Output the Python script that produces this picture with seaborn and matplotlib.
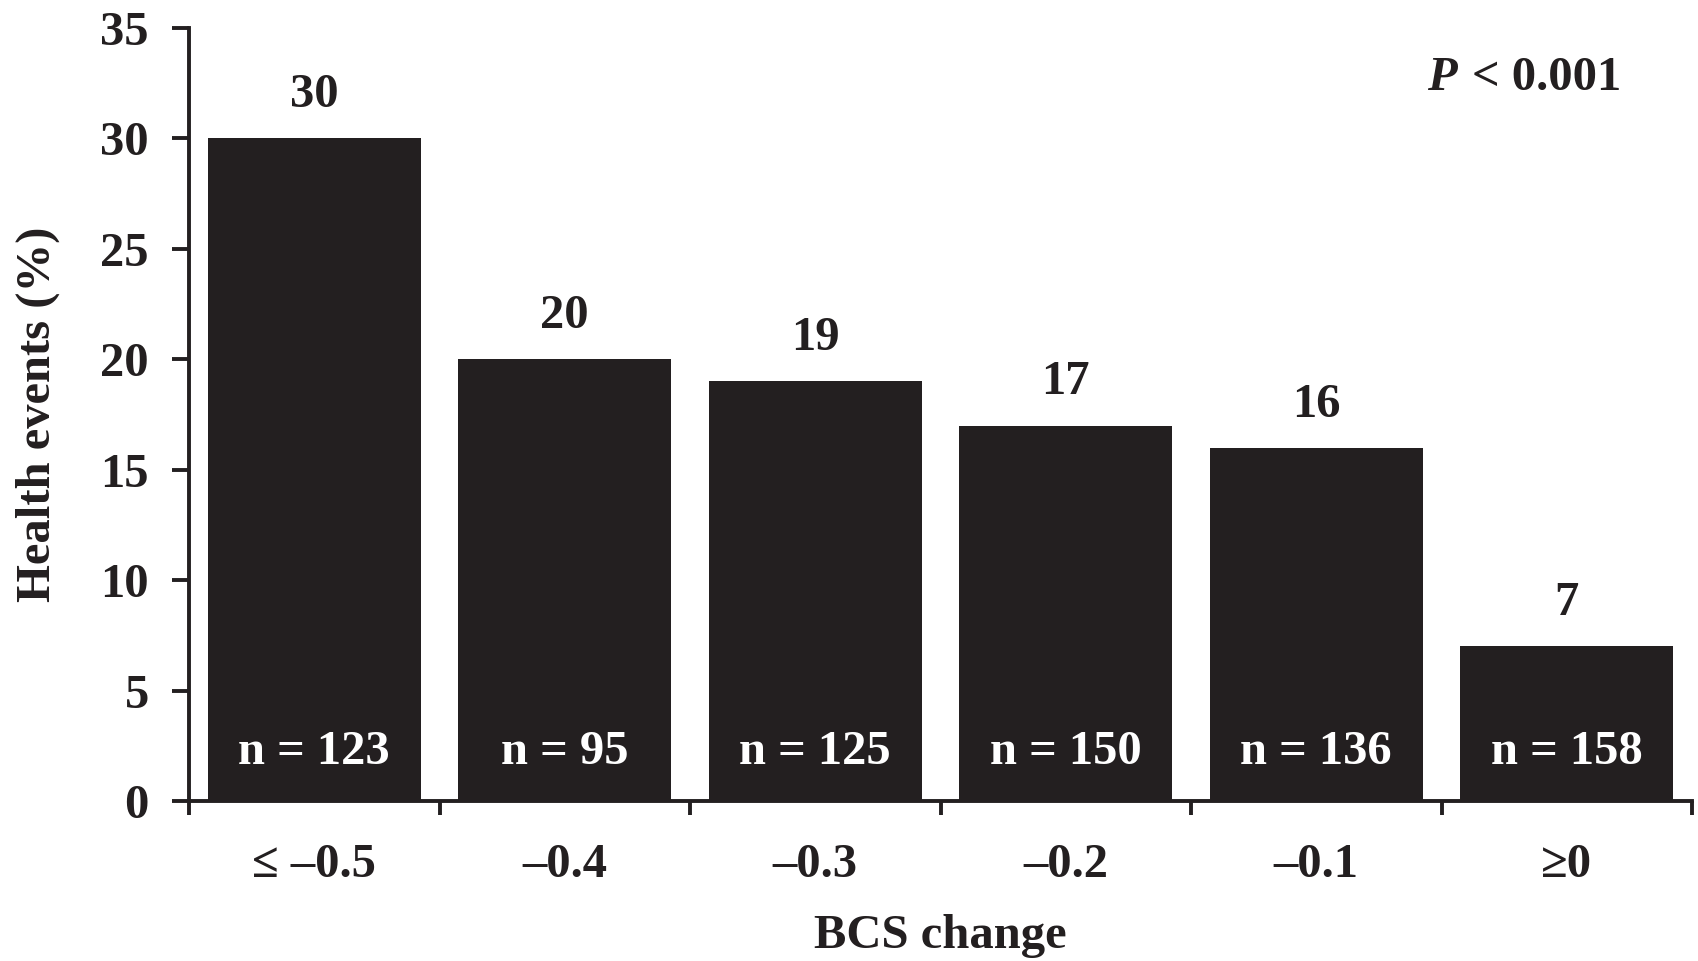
import matplotlib
matplotlib.use("Agg")
import matplotlib.pyplot as plt
import seaborn as sns
from matplotlib.ticker import FixedLocator

# data
categories = ["\u2264 \u20130.5", "\u20130.4", "\u20130.3", "\u20130.2", "\u20130.1", "\u22650"]
health_events = [30, 20, 19, 17, 16, 7]
n_counts = [123, 95, 125, 150, 136, 158]

bar_color = "#231f20"

sns.set_style("ticks")
plt.rcParams["font.family"] = ["Liberation Serif", "DejaVu Serif"]
plt.rcParams["font.weight"] = "bold"
plt.rcParams["axes.labelweight"] = "bold"

fig = plt.figure(figsize=(16.98, 9.61), dpi=100)
ax = fig.add_axes([189 / 1698, 1 - 801 / 961, 1503 / 1698, 773 / 961])

sns.barplot(x=categories, y=health_events, color=bar_color, saturation=1,
            width=0.85, linewidth=0, ax=ax)

ax.set_xlim(-0.5, len(categories) - 0.5)
ax.set_ylim(0, 35)
ax.set_yticks(range(0, 36, 5))

# bar value labels and sample sizes
for i, (v, n) in enumerate(zip(health_events, n_counts)):
    ax.text(i, v + 1.95, f"{v}", ha="center", va="center", fontsize=35,
            fontweight="bold", color=bar_color)
    ax.text(i, 2.2, f"n = {n}", ha="center", va="center", fontsize=35,
            fontweight="bold", color="white")

sns.despine(ax=ax)
for side in ("left", "bottom"):
    ax.spines[side].set_linewidth(2.8)
    ax.spines[side].set_color(bar_color)

ax.tick_params(axis="y", length=12, width=2.8, pad=17, labelsize=35,
               color=bar_color, labelcolor=bar_color)
ax.tick_params(axis="x", which="major", length=0, pad=30, labelsize=35,
               labelcolor=bar_color)
ax.xaxis.set_minor_locator(FixedLocator([i - 0.5 for i in range(len(categories) + 1)]))
ax.tick_params(axis="x", which="minor", length=10, width=2.8, color=bar_color)

ax.set_ylabel("Health events (%)", fontsize=35, fontweight="bold", color=bar_color)
ax.set_xlabel("BCS change", fontsize=35, fontweight="bold", color=bar_color)
ax.yaxis.set_label_coords(-0.086, 0.5)
ax.xaxis.set_label_coords(0.5, -0.146)

fig.text(1457 / 1698, 1 - 90 / 961, "P", ha="right", va="baseline", fontsize=35,
         fontweight="bold", fontstyle="italic", color=bar_color)
fig.text(1472 / 1698, 1 - 90 / 961, "< 0.001", ha="left", va="baseline", fontsize=35,
         fontweight="bold", color=bar_color)

fig.savefig("out.png", dpi=100)
